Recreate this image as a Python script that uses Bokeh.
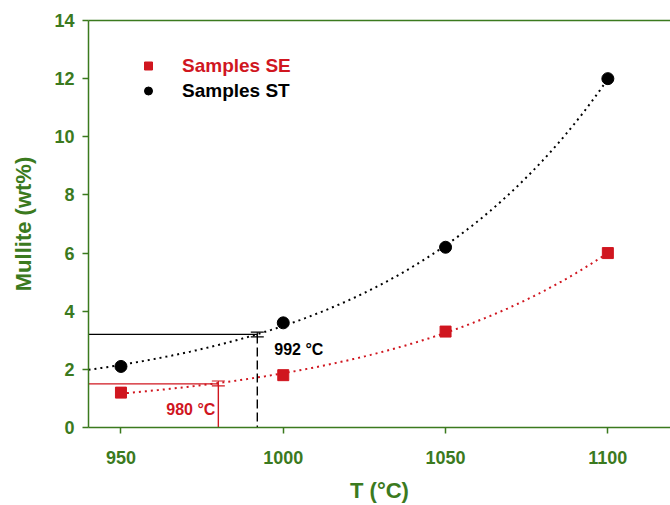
import numpy as np
from bokeh.plotting import figure
from bokeh.models import (Range1d, LinearAxis, FixedTicker, Legend, LegendItem,
                          Whisker, ColumnDataSource, TeeHead, Label)
from bokeh.core.properties import value
from bokeh.embed import file_html
from bokeh.resources import INLINE

# ---- data ----
temps = [950, 1000, 1050, 1100]
se_values = [1.2, 1.8, 3.3, 6.0]
st_values = [2.1, 3.6, 6.2, 12.0]
se_label = "Samples SE"
st_label = "Samples ST"
# threshold markers
se_thresh_T, se_thresh_y, se_err = 980, 1.5, (1.43, 1.6)
st_thresh_T, st_thresh_y, st_err = 992, 3.2, (3.12, 3.28)
x_ticks = [950, 1000, 1050, 1100]
y_ticks = [0, 2, 4, 6, 8, 10, 12, 14]
x_title = "T (°C)"
y_title = "Mullite (wt%)"

GREEN = "#3b7a1e"
RED = "#d0161f"
FONT = "Liberation Sans"


def exp_fit(x, y):
    """3-parameter exponential growth fit y = y0 + a*exp(b*(x-x0))."""
    x = np.asarray(x, float)
    y = np.asarray(y, float)
    x0 = x[0]
    best = None
    for b in np.linspace(0.001, 0.08, 4000):
        e = np.exp(b * (x - x0))
        A = np.vstack([np.ones_like(e), e]).T
        coef, *_ = np.linalg.lstsq(A, y, rcond=None)
        r = np.sum((A @ coef - y) ** 2)
        if best is None or r < best[0]:
            best = (r, coef[0], coef[1], b)
    _, y0, a, b = best
    return lambda xx: y0 + a * np.exp(b * (np.asarray(xx, float) - x0))


xr = Range1d(940, 1119.3)
p = figure(width=670, height=505, output_backend="svg", toolbar_location=None,
           x_range=xr, y_range=Range1d(0, 14),
           min_border_left=88, min_border_top=20, min_border_bottom=77,
           min_border_right=0)
p.outline_line_color = None
p.grid.visible = False
p.background_fill_color = "white"
p.border_fill_color = "white"

# fits
f_se = exp_fit(temps, se_values)
f_st = exp_fit(temps, st_values)
xs_se = np.linspace(temps[0], temps[-1], 200)
xs_st = np.linspace(xr.start, temps[-1], 200)
p.line(xs_se, f_se(xs_se), line_color=RED, line_width=2, line_dash="2 4")
p.line(xs_st, f_st(xs_st), line_color="black", line_width=2, line_dash="2 4")

# threshold lines
p.line([xr.start, st_thresh_T], [st_thresh_y, st_thresh_y], line_color="black",
       line_width=1.2)
p.line([st_thresh_T, st_thresh_T], [st_thresh_y, 0], line_color="black",
       line_width=1.4, line_dash="9 4")
p.line([xr.start, se_thresh_T], [se_thresh_y, se_thresh_y], line_color=RED,
       line_width=1.2)
p.line([se_thresh_T, se_thresh_T], [se_thresh_y, 0], line_color=RED, line_width=1.4)

for T, (lo, hi), col in [(st_thresh_T, st_err, "black"), (se_thresh_T, se_err, RED)]:
    src = ColumnDataSource(dict(x=[T], lo=[lo], hi=[hi]))
    p.add_layout(Whisker(base="x", lower="lo", upper="hi", source=src,
                         dimension="height", line_color=col, line_width=1.2,
                         upper_head=TeeHead(size=13, line_color=col, line_width=1.2),
                         lower_head=TeeHead(size=13, line_color=col, line_width=1.2)))

# markers
r_se = p.scatter(temps, se_values, marker="square", size=11, fill_color=RED,
                 line_color=RED)
r_st = p.scatter(temps, st_values, marker="circle", size=12, fill_color="black",
                 line_color="black")

p.add_layout(Label(x=st_thresh_T, y=st_thresh_y, x_offset=17, y_offset=-15,
                   text=f"{st_thresh_T} °C", text_font=FONT, text_font_style="bold",
                   text_font_size="16px", text_color="black",
                   text_baseline="middle", text_align="left"))
p.add_layout(Label(x=se_thresh_T, y=se_thresh_y, x_offset=-3, y_offset=-26,
                   text=f"{se_thresh_T} °C", text_font=FONT, text_font_style="bold",
                   text_font_size="16px", text_color=RED,
                   text_baseline="middle", text_align="right"))

# legends (two, so each label has its own colour)
for r, lab, col, loc in [(r_se, se_label, RED, (50, 349)),
                         (r_st, st_label, "black", (50, 324))]:
    lg = Legend(items=[LegendItem(label=value(lab), renderers=[r])],
                location=loc, orientation="vertical",
                label_text_font=FONT, label_text_font_style="bold",
                label_text_font_size="19px", label_text_color=col,
                glyph_width=20, glyph_height=25, label_height=25,
                label_standoff=24, spacing=0, padding=0, margin=0,
                border_line_color=None, background_fill_alpha=0)
    p.add_layout(lg)

# axes
for ax in [p.xaxis[0], p.yaxis[0]]:
    ax.axis_line_color = GREEN
    ax.axis_line_width = 1.5
    ax.major_tick_line_color = GREEN
    ax.major_tick_line_width = 1.5
    ax.minor_tick_line_color = None
    ax.major_tick_in = 0
    ax.major_tick_out = 6
    ax.major_label_text_font = FONT
    ax.major_label_text_font_style = "bold"
    ax.major_label_text_font_size = "18px"
    ax.major_label_text_color = GREEN
    ax.axis_label_text_font = FONT
    ax.axis_label_text_font_style = "bold"
    ax.axis_label_text_font_size = "22px"
    ax.axis_label_text_color = GREEN

p.xaxis[0].ticker = FixedTicker(ticks=x_ticks)
p.yaxis[0].ticker = FixedTicker(ticks=y_ticks)
p.xaxis[0].axis_label = x_title
p.yaxis[0].axis_label = y_title
p.xaxis[0].major_label_standoff = 17
p.xaxis[0].axis_label_standoff = 11
p.yaxis[0].major_label_standoff = 8
p.yaxis[0].axis_label_standoff = 15

top = LinearAxis(ticker=FixedTicker(ticks=[]), axis_line_color=GREEN,
                 axis_line_width=1.5, major_label_text_font_size="0px",
                 major_tick_line_color=None, minor_tick_line_color=None)
p.add_layout(top, "above")

html = file_html(p, INLINE)
open("out.html", "w").write(html)
